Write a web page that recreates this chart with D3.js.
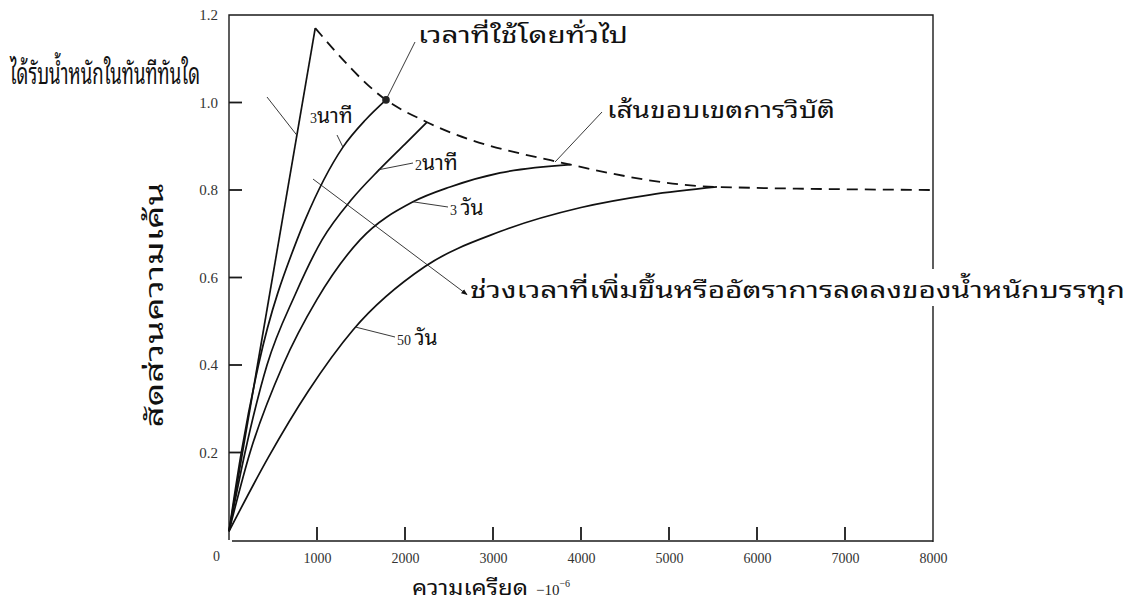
<!DOCTYPE html>
<html>
<head>
<title>สัดส่วนความเค้น - ความเครียด</title>
<meta charset="utf-8">
<style>
    body { margin : 0; background : #fff; }
    .frame { fill : none; stroke : #1a1a1a; stroke-width : 1.4px; }
    .tick text { font-family : "Liberation Serif", "DejaVu Serif", serif; font-size : 15px; fill : #333; }
    .curve { fill : none; stroke : #111; stroke-width : 1.7px; }
    .envelope { fill : none; stroke : #111; stroke-width : 1.8px; stroke-dasharray : 11,7; }
    .leader { fill : none; stroke : #222; stroke-width : 0.9px; }
    .thai { font-family : "Noto Sans Thai Looped", "Noto Serif Thai", "Norasi", "Kinnari", "Garuda", "Loma", "Noto Sans Thai", sans-serif; fill : #111; }
    .num { font-family : "Liberation Serif", "DejaVu Serif", serif; fill : #222; }
</style>
</head>
<body>
<script src="https://cdn.jsdelivr.net/npm/d3@7"></script>
<script>

// ---- data (strain x10^-6, stress ratio) ----
var xTickValues = [0, 1000, 2000, 3000, 4000, 5000, 6000, 7000, 8000];
var yTickValues = [0.2, 0.4, 0.6, 0.8, 1.0, 1.2];

var instantLoad = [[0, 0.02], [980, 1.17]];
var threeMin = [[0, 0.02], [140, 0.2], [335, 0.4], [773, 0.686], [864, 0.731], [1295, 0.898], [1550, 0.96], [1784, 1.006]];
var twoMin = [[0, 0.02], [182, 0.2], [432, 0.4], [750, 0.56], [1057, 0.686], [1400, 0.78], [1705, 0.846], [2000, 0.905], [2250, 0.955]];
var threeDay = [[0, 0.02], [239, 0.2], [614, 0.4], [1000, 0.55], [1489, 0.686], [2091, 0.773], [2511, 0.807], [3080, 0.839], [3880, 0.858]];
var fiftyDay = [[0, 0.02], [450, 0.19], [900, 0.34], [1409, 0.48], [2227, 0.625], [3080, 0.705], [4000, 0.76], [4784, 0.789], [5545, 0.807]];
var failureEnvelope = [[980, 1.17], [1784, 1.006], [2250, 0.955], [3880, 0.858], [5545, 0.807], [8000, 0.80]];
var typicalPoint = [1784, 1.006];

var W = 1129, H = 603;
var x0 = 229, x1 = 933, yTop = 15, yBottom = 540, tickLen = 13;

var x = d3.scaleLinear().domain([0, 8000]).range([x0, x1]);
var y = d3.scaleLinear().domain([0, 1.2]).range([yBottom, yTop]);

var svg = d3.select("body").append("svg")
        .attr("width", W)
        .attr("height", H)
        ;
svg.append("rect").attr("width", W).attr("height", H).attr("fill", "#fff");

var smooth = d3.line()
        .x(function(d) { return x(d[0]); })
        .y(function(d) { return y(d[1]); })
        .curve(d3.curveMonotoneX);
var straight = d3.line()
        .x(function(d) { return x(d[0]); })
        .y(function(d) { return y(d[1]); });

// ---- axes: labels from d3 axes ----
var gx = svg.append("g")
        .attr("transform", "translate(0," + yBottom + ")")
        .call(d3.axisBottom(x).tickValues(xTickValues).tickSize(0).tickPadding(13).tickFormat(d3.format("d")));
gx.selectAll(".tick")
        .filter(function(d) { return d === 0; })
        .select("text").attr("dx", -13).attr("dy", "0.55em");
gx.selectAll(".tick text").style("font-size", "14px");

var gy = svg.append("g")
        .attr("transform", "translate(" + x0 + ",0)")
        .call(d3.axisLeft(y).tickValues(yTickValues).tickSize(0).tickPadding(11).tickFormat(d3.format(".1f")));
svg.selectAll(".domain").remove();

// frame
svg.append("path")
        .attr("class", "frame")
        .attr("d", "M" + x0 + "," + yBottom + "V" + yTop + "H" + x1 + "V" + (yBottom + 2));
svg.append("line")
        .attr("class", "frame")
        .attr("x1", x0 + 3).attr("x2", x1)
        .attr("y1", yBottom + 1).attr("y2", yBottom + 1);

// inward tick marks, placed with the same scales
var innerX = xTickValues.filter(function(d) { return d > 0 && d < 8000; });
var innerY = yTickValues.filter(function(d) { return d < 1.2; });
svg.append("g").selectAll("rect")
        .data(innerX)
        .enter().append("rect")
        .attr("x", function(d) { return x(d) - 0.9; })
        .attr("y", yBottom - tickLen)
        .attr("width", 1.8)
        .attr("height", tickLen)
        .style("fill", "#1a1a1a");
svg.append("g").selectAll("rect")
        .data(innerY)
        .enter().append("rect")
        .attr("x", x0)
        .attr("y", function(d) { return y(d) - 0.9; })
        .attr("width", tickLen)
        .attr("height", 1.8)
        .style("fill", "#1a1a1a");

// ---- curves ----
svg.append("path").attr("class", "curve").attr("d", straight(instantLoad));
svg.selectAll(".bent")
        .data([threeMin, twoMin, threeDay, fiftyDay])
        .enter().append("path")
        .attr("class", "curve bent")
        .attr("d", smooth);

svg.append("path")
        .attr("class", "envelope")
        .attr("d", smooth(failureEnvelope));

svg.append("circle")
        .attr("cx", x(typicalPoint[0]))
        .attr("cy", y(typicalPoint[1]))
        .attr("r", 3.8)
        .attr("fill", "#222");

// ---- annotations: tip on the curve (data), label end (pixels) ----
function leader(tip, px, py) {
    svg.append("line")
        .attr("class", "leader")
        .attr("x1", x(tip[0])).attr("y1", y(tip[1]))
        .attr("x2", px).attr("y2", py);
}
function thaiText(str, tx, ty, size, len) {
    var t = svg.append("text")
        .attr("class", "thai")
        .attr("x", tx).attr("y", ty)
        .attr("font-size", size)
        .text(str);
    if (len) t.attr("textLength", len).attr("lengthAdjust", "spacingAndGlyphs");
    return t;
}
function numThai(num, str, tx, ty) {
    var t = svg.append("text").attr("x", tx).attr("y", ty);
    t.append("tspan").attr("class", "num").attr("font-size", 14).text(num);
    t.append("tspan").attr("class", "thai").attr("font-size", 21).text(str);
    return t;
}

leader([768, 0.926], 267, 97);
thaiText("ได้รับน้ำหนักในทันทีทันใด", 10, 84, 29, 190);

leader([1295, 0.898], 337, 135);
numThai("3", "นาที", 310, 123);

leader(typicalPoint, 415, 42);
thaiText("เวลาที่ใช้โดยทั่วไป", 418, 43, 22, 210);

leader([1693, 0.846], 413, 163);
numThai("2", "นาที", 415, 170);

leader([2091, 0.773], 448, 207);
numThai("3 ", "วัน", 450, 215);

leader([1432, 0.487], 395, 337);
numThai("50 ", "วัน", 397, 345);

leader([3705, 0.864], 602, 112);
thaiText("เส้นขอบเขตการวิบัติ", 607, 118, 23, 228);

// arrow for rate of loading
svg.append("defs").append("marker")
        .attr("id", "head")
        .attr("viewBox", "0 0 10 10")
        .attr("refX", 9).attr("refY", 5)
        .attr("markerWidth", 7).attr("markerHeight", 7)
        .attr("orient", "auto")
        .append("path").attr("d", "M0,1L10,5L0,9Z").attr("fill", "#111");
svg.append("line")
        .attr("class", "leader")
        .attr("x1", x(955)).attr("y1", y(0.825))
        .attr("x2", x(2705)).attr("y2", y(0.561))
        .attr("marker-end", "url(#head)");

var longText = thaiText("ช่วงเวลาที่เพิ่มขึ้นหรืออัตราการลดลงของน้ำหนักบรรทุก", 470, 298, 23, 655);
var bb = longText.node().getBBox();
svg.insert("rect", "text.thai")
        .attr("x", x1 - 3).attr("y", bb.y)
        .attr("width", 8).attr("height", bb.height)
        .attr("fill", "#fff");

// ---- axis titles ----
var xt = svg.append("text").attr("x", 412).attr("y", 595);
xt.append("tspan").attr("class", "thai").attr("font-size", 21)
        .attr("textLength", 116).attr("lengthAdjust", "spacingAndGlyphs")
        .text("ความเครียด");
xt.append("tspan").attr("class", "num").attr("font-size", 15).attr("dx", 8).text("−10");
xt.append("tspan").attr("class", "num").attr("font-size", 10).attr("dy", -8).text("−6");

svg.append("text")
        .attr("class", "thai")
        .attr("transform", "translate(163,305) rotate(-90)")
        .attr("text-anchor", "middle")
        .attr("font-size", 24)
        .attr("fill", "#333")
        .attr("textLength", 245).attr("lengthAdjust", "spacingAndGlyphs")
        .text("สัดส่วนความเค้น");

</script>
</body>
</html>
